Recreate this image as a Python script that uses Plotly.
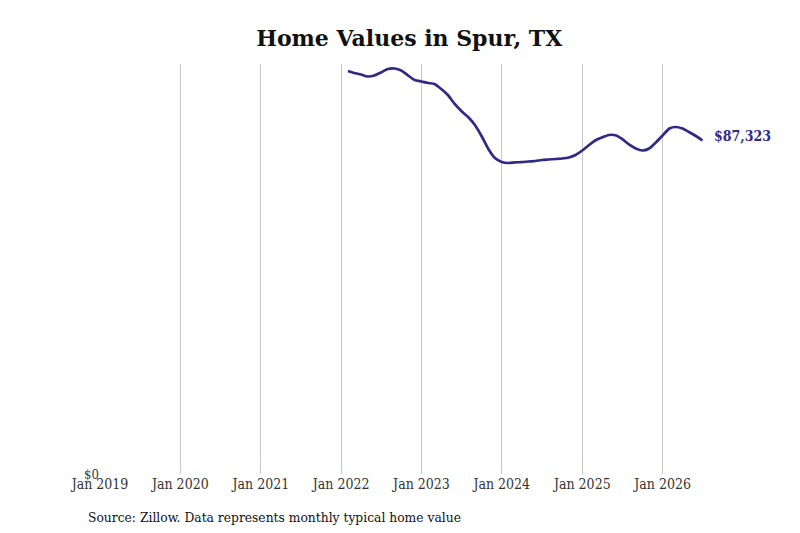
import plotly.graph_objects as go

dates = [
    "2022-02-01", "2022-03-01", "2022-04-01", "2022-05-01", "2022-06-01", "2022-07-01",
    "2022-08-01", "2022-09-01", "2022-10-01", "2022-11-01", "2022-12-01",
    "2023-01-01", "2023-02-01", "2023-03-01", "2023-04-01", "2023-05-01", "2023-06-01",
    "2023-07-01", "2023-08-01", "2023-09-01", "2023-10-01", "2023-11-01", "2023-12-01",
    "2024-01-01", "2024-02-01", "2024-03-01", "2024-04-01", "2024-05-01", "2024-06-01",
    "2024-07-01", "2024-08-01", "2024-09-01", "2024-10-01", "2024-11-01", "2024-12-01",
    "2025-01-01", "2025-02-01", "2025-03-01", "2025-04-01", "2025-05-01", "2025-06-01",
    "2025-07-01", "2025-08-01", "2025-09-01", "2025-10-01", "2025-11-01", "2025-12-01",
    "2026-01-01", "2026-02-01", "2026-03-01", "2026-04-01", "2026-05-01", "2026-06-01",
    "2026-07-01",
]
values = [
    105522, 105000, 104606, 104083, 104344, 105130,
    106047, 106177, 105653, 104344, 103166,
    102773, 102380, 102118, 100809, 99238, 96881,
    95048, 93477, 91383, 88502, 85098, 82742,
    81694, 81433, 81600, 81650, 81825, 81956,
    82218, 82349, 82480, 82611, 82873, 83528,
    84706, 86146, 87324, 88110, 88764, 88700,
    87717, 86277, 85230, 84706, 85230, 86800,
    88633, 90466, 90859, 90466, 89550, 88502,
    87323,
]
x_tick_vals = ["2019-01-01", "2020-01-01", "2021-01-01", "2022-01-01", "2023-01-01",
               "2024-01-01", "2025-01-01", "2026-01-01"]
x_tick_text = ["Jan 2019", "Jan 2020", "Jan 2021", "Jan 2022", "Jan 2023",
               "Jan 2024", "Jan 2025", "Jan 2026"]
y_tick_vals = [0]
y_tick_text = ["$0"]

line_color = "#2e2a86"
serif = "DejaVu Serif Condensed, DejaVu Serif, serif"

fig = go.Figure()
fig.add_trace(go.Scatter(
    x=dates, y=values, mode="lines",
    line=dict(color=line_color, width=2.7, shape="spline", smoothing=0.6),
    hoverinfo="skip", showlegend=False,
))

fig.add_annotation(
    x=dates[-1], y=values[-1], text="<b>$%s</b>" % format(values[-1], ","),
    showarrow=False, xanchor="left", yanchor="middle", xshift=10, yshift=4,
    font=dict(family=serif, size=14, color=line_color),
)
fig.add_annotation(
    xref="paper", yref="paper", x=-0.021, y=-0.105, xanchor="left", yanchor="middle",
    text="Source: Zillow. Data represents monthly typical home value", showarrow=False,
    font=dict(family=serif, size=13.7, color="#111111"),
)

fig.update_layout(
    width=800, height=533,
    margin=dict(l=92, r=40, t=56, b=67),
    paper_bgcolor="white", plot_bgcolor="white",
    title=dict(text="<b>Home Values in Spur, TX</b>", x=0.5015, xanchor="center",
               y=0.9437, yanchor="middle",
               font=dict(family="DejaVu Serif, serif", size=22, color="#111111")),
    xaxis=dict(
        type="date", range=["2019-01-01", "2027-04-25"],
        tickvals=x_tick_vals, ticktext=x_tick_text,
        showgrid=True, gridcolor="#c8c8c8", gridwidth=1,
        zeroline=False, showline=False, ticks="",
        tickfont=dict(family=serif, size=14, color="#333333"),
    ),
    yaxis=dict(
        range=[0, 107350], tickvals=y_tick_vals, ticktext=y_tick_text,
        showgrid=False, zeroline=False, showline=False, ticks="",
        tickfont=dict(family=serif, size=13, color="#333333"),
    ),
)

fig.write_html("out.html")
